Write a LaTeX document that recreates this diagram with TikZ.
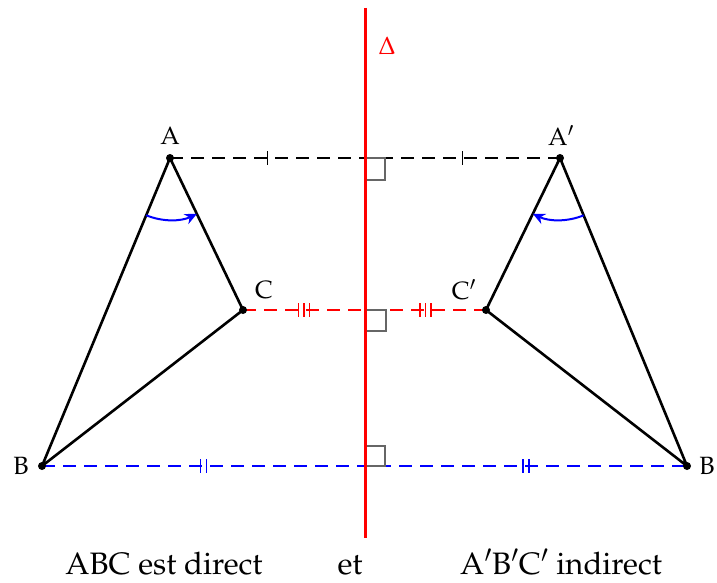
\documentclass[tikz,border=0pt]{standalone}
\usepackage[T1]{fontenc}
\usepackage{xcolor}
\usepackage{amsmath, amssymb}
\usepackage{mathpazo}
\usetikzlibrary{calc,arrows.meta}
\definecolor{axisred}{RGB}{255,0,0}
\definecolor{anglblue}{RGB}{0,0,255}
\tikzset{
  side/.style={line width=2.6pt, line join=round},
  seg/.style={line width=2pt, dash pattern=on 13pt off 8pt},
  sqmark/.style={draw=black!60, line width=1.3pt},
  tick/.style={line width=1.2pt},
  vertex/.style={circle, fill=black, inner sep=0pt, minimum size=8pt},
  orient/.style={anglblue, line width=2pt, -{Stealth[length=12pt,width=11pt]}},
  lbl/.style={font=\fontsize{25}{29}\selectfont},
  caption/.style={font=\fontsize{31}{35}\selectfont, anchor=base, inner sep=0pt},
}

\begin{document}
\begin{tikzpicture}[x=1pt, y=-1pt]
  \useasboundingbox (0,0) rectangle (717,583);

  % points
  \coordinate (A) at (170,158);
  \coordinate (B) at (42,466);
  \coordinate (C) at (243,310);
  \coordinate (A') at (560,158);
  \coordinate (B') at (687,466);
  \coordinate (C') at (486,310);
  \coordinate (HA) at (365,158);
  \coordinate (HB) at (365,466);
  \coordinate (HC) at (365,310);
  \coordinate (top) at (365,8);
  \coordinate (bot) at (365,538);

  % segments between a point and its image
  \draw[seg] (A) -- (A');
  \draw[seg, axisred] (C) -- (C');
  \draw[seg, anglblue] (B) -- (B');

  % right angles
  \draw[sqmark] (HA) -- ++(20,0) -- ++(0,22) -- ++(-20,0);
  \draw[sqmark] (HC) -- ++(21,0) -- ++(0,21) -- ++(-21,0);
  \draw[sqmark] (HB) -- ++(20,0) -- ++(0,-20) -- ++(-20,0);

  % axis
  \draw[axisred, line width=3pt] (top) -- (bot);
  \node[axisred, lbl] at (387,46) {$\Delta$};

  % equal lengths
  \foreach \a/\b in {A/HA, HA/A'}
    \draw[tick] ($(\a)!0.5!(\b)$) ++(0,-7) -- ++(0,14);
  \foreach \a/\b in {C/HC, HC/C'}
    \foreach \dx in {-5.5,0,5.5}
      \draw[tick, axisred] ($(\a)!0.5!(\b)$) ++(\dx,-7) -- ++(0,14);
  \foreach \a/\b in {B/HB, HB/B'}
    \foreach \dx in {-3,3}
      \draw[tick, anglblue] ($(\a)!0.5!(\b)$) ++(\dx,-7) -- ++(0,14);

  % triangles
  \draw[side] (B) -- (A) -- (C) -- cycle;
  \draw[side] (B') -- (A') -- (C') -- cycle;

  % orientation
  \draw[orient] ($(A)+(112.6:62)$) arc[start angle=112.6, end angle=64.3, radius=62];
  \draw[orient] ($(A')+(67.6:62)$) arc[start angle=67.6, end angle=116, radius=62];

  \foreach \v in {A,B,C,A',B',C'}
    \node[vertex] at (\v) {};

  % labels
  \node[lbl] at (170,136) {A};
  \node[lbl] at (21,466) {B};
  \node[lbl] at (264,290) {C};
  \node[lbl] at (561,136) {$\mathrm{A}'$};
  \node[lbl] at (707,466) {B};
  \node[lbl] at (464,290) {$\mathrm{C}'$};

  \node[caption] at (164,574) {ABC est direct};
  \node[caption] at (350,574) {et};
  \node[caption] at (561,574) {$\mathrm{A}'\mathrm{B}'\mathrm{C}'$ indirect};
\end{tikzpicture}
\end{document}
